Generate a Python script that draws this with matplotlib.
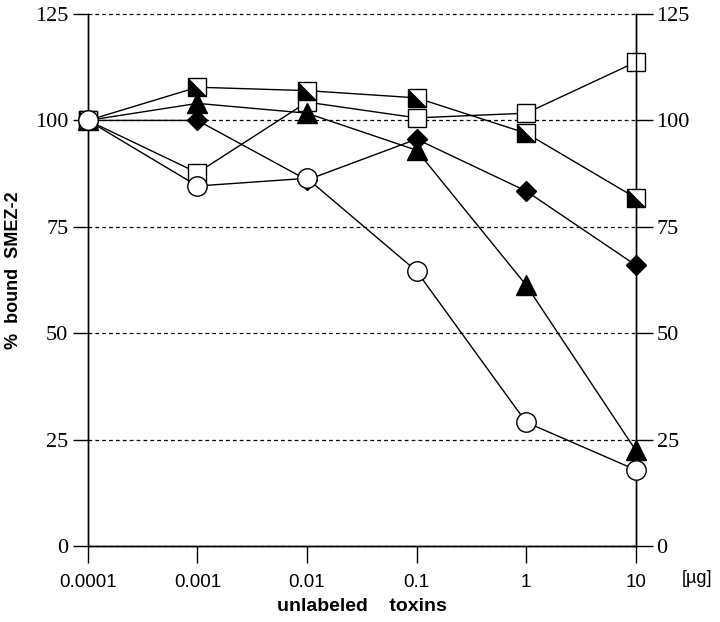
import numpy as np
import matplotlib
matplotlib.use("Agg")
import matplotlib.pyplot as plt
from matplotlib.path import Path

# dose of unlabeled toxin [ug]
dose = [0.0001, 0.001, 0.01, 0.1, 1, 10]

# % bound SMEZ-2 for each competitor
open_square = [100, 87.7, 104.3, 100.6, 101.7, 113.7]
half_square = [100, 107.8, 107.0, 105.3, 97.0, 81.8]
triangle = [100, 104.0, 101.7, 93.0, 61.3, 22.5]
diamond = [100, 100.0, 86.0, 95.6, 83.4, 66.0]
circle = [100, 84.6, 86.4, 64.6, 29.1, 17.9]

yticks = [0, 25, 50, 75, 100, 125]
xticks = [0.0001, 0.001, 0.01, 0.1, 1, 10]
xticklabels = ["0.0001", "0.001", "0.01", "0.1", "1", "10"]

fig = plt.figure(figsize=(7.2, 6.22), dpi=100)
ax = fig.add_axes([0.122, 0.122, 0.761, 0.8555])
ax2 = ax.twinx()
# keep the data on top of the twin axis spines
ax.set_zorder(ax2.get_zorder() + 1)
ax.patch.set_visible(False)

ax.set_xscale("log")
ax.set_xlim(0.0001, 10)
ax.set_ylim(0, 125)
ax2.set_ylim(0, 125)

# dashed grid
for y in yticks:
    ax.axhline(y, color="black", lw=0.9, ls=(0, (3, 2.5)), zorder=0, clip_on=False)

lkw = dict(color="black", lw=1.0, clip_on=False)
ax.plot(dose, open_square, marker="s", ms=13, mfc="white", mec="black", mew=1, zorder=2, **lkw)
ax.plot(dose, half_square, marker="s", ms=13, mfc="white", mec="black", mew=1, zorder=3, **lkw)
tri_ll = Path([(-1, 1), (-1, -1), (1, -1), (-1, 1)],
              [Path.MOVETO, Path.LINETO, Path.LINETO, Path.CLOSEPOLY])
ax.plot(dose, half_square, ls="none", marker=tri_ll, ms=13, mfc="black", mec="black",
        mew=0.5, zorder=3, clip_on=False)
ax.plot(dose, triangle, marker="^", ms=14, mfc="black", mec="black", zorder=4, **lkw)
ax.plot(dose, diamond, marker="D", ms=10, mfc="black", mec="black", zorder=5, **lkw)
ax.plot(dose, circle, marker="o", ms=14, mfc="white", mec="black", mew=1, zorder=6, **lkw)

ax.set_xticks(xticks)
ax.set_xticklabels(xticklabels, fontsize=13.5, family="Liberation Sans")
ax.xaxis.set_minor_locator(matplotlib.ticker.NullLocator())
ax.tick_params(axis="x", direction="out", length=12, width=1, pad=8)

ax.set_yticks(yticks)
ax.set_yticklabels([str(v) for v in yticks], fontsize=16, family="Liberation Serif")
ax.tick_params(axis="y", direction="out", length=11, width=1, pad=3)

ax2.set_yticks(yticks)
ax2.set_yticklabels([str(v) for v in yticks], fontsize=16, family="Liberation Serif")
ax2.tick_params(axis="y", direction="out", length=12, width=1, pad=3)

for a in (ax, ax2):
    for s in a.spines.values():
        s.set_linewidth(1)
    a.spines["top"].set_visible(False)

fig.text(0.019, 0.566, "%  bound  SMEZ-2", fontsize=13, fontweight="bold",
         family="Liberation Sans", rotation=90, ha="center", va="center")
ax.set_xlabel("unlabeled    toxins", fontsize=14, fontweight="bold", family="Liberation Sans", labelpad=5)
fig.text(0.968, 0.07, "[µg]", fontsize=13, family="Liberation Sans", ha="center", va="center")

fig.savefig("out.png", dpi=100)
